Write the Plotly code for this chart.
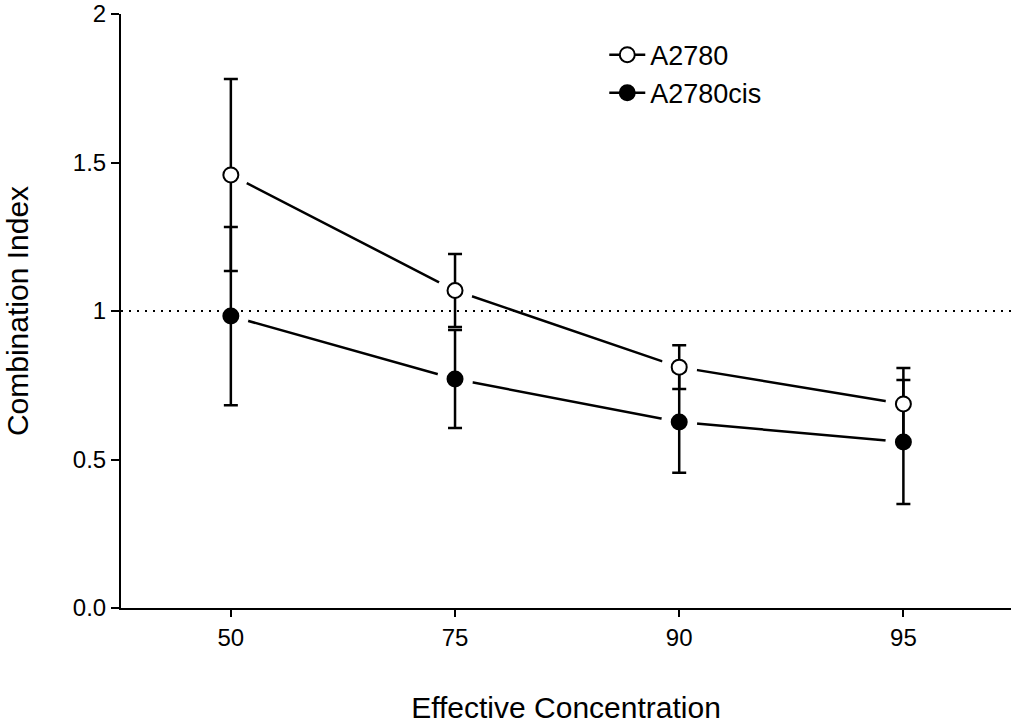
import plotly.graph_objects as go

conc = ["50", "75", "90", "95"]
a2780_mean = [1.458, 1.069, 0.811, 0.687]
a2780_err = [0.323, 0.123, 0.074, 0.121]
cis_mean = [0.983, 0.771, 0.626, 0.559]
cis_err = [0.300, 0.165, 0.171, 0.209]
ref_level = 1.0

y_tickvals = [0, 0.5, 1, 1.5, 2]
y_ticktext = ["0.0", "0.5", "1", "1.5", "2"]

FONT = "Liberation Sans, Arial, sans-serif"
BLACK = "#000000"

fig = go.Figure()

# connecting lines
for mean in (a2780_mean, cis_mean):
    fig.add_trace(go.Scatter(x=conc, y=mean, mode="lines",
                             line=dict(color=BLACK, width=2.5),
                             showlegend=False, hoverinfo="skip"))

# white halos to create gaps around points
fig.add_trace(go.Scatter(x=conc + conc, y=a2780_mean + cis_mean, mode="markers",
                         marker=dict(size=36, color="white", line=dict(width=0)),
                         showlegend=False, hoverinfo="skip"))

# dotted reference line
fig.add_trace(go.Scatter(x=[0, 1], y=[ref_level, ref_level], mode="lines",
                         xaxis="x2", yaxis="y",
                         line=dict(color=BLACK, width=2, dash="2px,6px"),
                         showlegend=False, hoverinfo="skip"))

# error bars + markers
fig.add_trace(go.Scatter(x=conc, y=cis_mean, mode="markers",
                         marker=dict(symbol="circle", size=15, color=BLACK,
                                     line=dict(color=BLACK, width=2)),
                         error_y=dict(type="data", array=cis_err, visible=True,
                                      color=BLACK, thickness=2.5, width=7),
                         showlegend=False))
fig.add_trace(go.Scatter(x=conc, y=a2780_mean, mode="markers",
                         marker=dict(symbol="circle", size=15, color="white",
                                     line=dict(color=BLACK, width=2)),
                         error_y=dict(type="data", array=a2780_err, visible=True,
                                      color=BLACK, thickness=2.5, width=7),
                         showlegend=False))

# legend entries
fig.add_trace(go.Scatter(x=[None], y=[None], mode="lines+markers", name="A2780",
                         line=dict(color=BLACK, width=2.5),
                         marker=dict(symbol="circle", size=15, color="white",
                                     line=dict(color=BLACK, width=2))))
fig.add_trace(go.Scatter(x=[None], y=[None], mode="lines+markers", name="A2780cis",
                         line=dict(color=BLACK, width=2.5),
                         marker=dict(symbol="circle", size=15, color=BLACK,
                                     line=dict(color=BLACK, width=2))))

fig.update_layout(
    width=1011, height=727,
    margin=dict(l=121, r=0, t=14, b=119),
    paper_bgcolor="white", plot_bgcolor="white",
    font=dict(family=FONT, color="#000000", size=24),
    xaxis=dict(
        type="category", categoryorder="array", categoryarray=conc,
        range=[-0.49, 3.48],
        showline=True, linecolor=BLACK, linewidth=2,
        ticks="outside", ticklen=7, tickwidth=2, tickcolor=BLACK,
        showgrid=False, zeroline=False,
        tickfont=dict(size=24),
        title=dict(text="Effective Concentration", font=dict(size=30), standoff=47),
        automargin=False,
    ),
    xaxis2=dict(overlaying="x", range=[0, 1], visible=False),
    yaxis=dict(
        range=[0, 2],
        tickvals=y_tickvals, ticktext=y_ticktext,
        showline=True, linecolor=BLACK, linewidth=2,
        ticks="outside", ticklen=8, tickwidth=2, tickcolor=BLACK,
        showgrid=False, zeroline=False,
        tickfont=dict(size=24),
        title=dict(text="Combination Index", font=dict(size=30), standoff=35),
        automargin=False,
    ),
    legend=dict(x=0.543, y=0.972, xanchor="left", yanchor="top",
                bgcolor="rgba(0,0,0,0)", font=dict(size=27),
                itemwidth=36, tracegroupgap=0),
    showlegend=True,
)

fig.write_html("out.html")
